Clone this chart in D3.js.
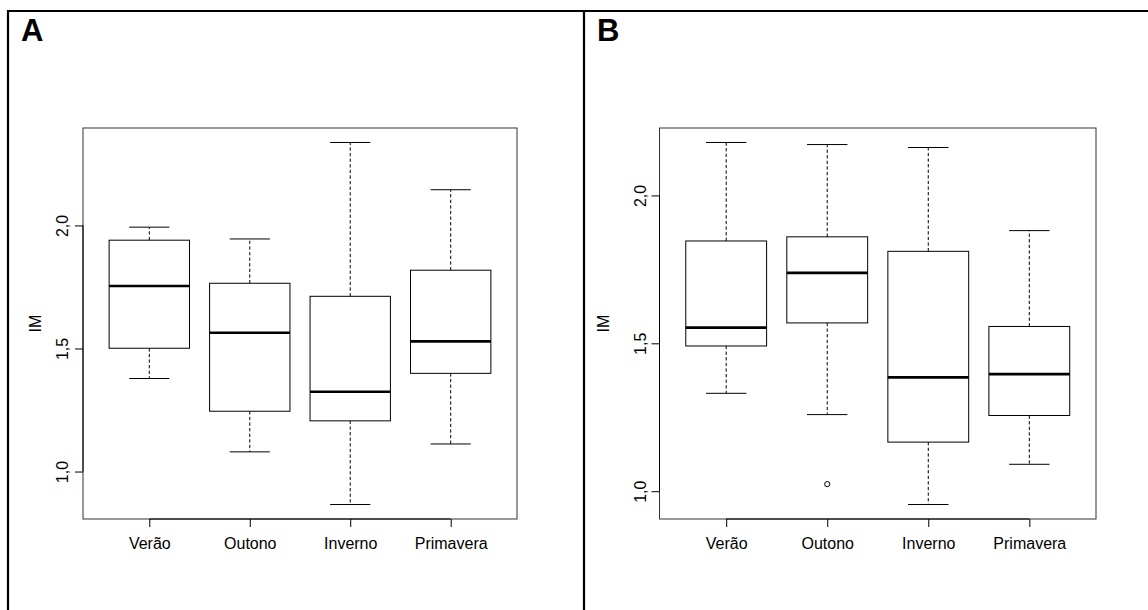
<!DOCTYPE html>
<html>
<head>
<meta charset="utf-8">
<script src="https://cdn.jsdelivr.net/npm/d3@7"></script>
<style>
  html, body { margin: 0; padding: 0; background: #fff; }
  svg { display: block; font-family: "Liberation Sans", Arial, Helvetica, sans-serif; }
</style>
</head>
<body>
<svg id="chart" width="1148" height="610"></svg>
<script>
// Seasons on the x axis
const categories = ["Verão", "Outono", "Inverno", "Primavera"];

// Panel A: five-number summaries of IM per season
const lowA    = [1.378, 1.080, 0.866, 1.112];
const q1A     = [1.501, 1.245, 1.206, 1.399];
const medianA = [1.754, 1.564, 1.324, 1.529];
const q3A     = [1.940, 1.765, 1.712, 1.818];
const highA   = [1.993, 1.945, 2.337, 2.145];
const outliersA = [[], [], [], []];

// Panel B: five-number summaries of IM per season
const lowB    = [1.331, 1.259, 0.955, 1.091];
const q1B     = [1.491, 1.569, 1.166, 1.256];
const medianB = [1.553, 1.738, 1.385, 1.396];
const q3B     = [1.846, 1.860, 1.811, 1.557];
const highB   = [2.179, 2.172, 2.162, 1.881];
const outliersB = [[], [1.024], [], []];

// Shared y axis ticks
const yTickValues = [1.0, 1.5, 2.0];
const yTickLabels = ["1,0", "1,5", "2,0"];
const yAxisTitle = "IM";
const panelLetters = ["A", "B"];

const svg = d3.select("#chart");
svg.append("rect").attr("width", 1148).attr("height", 610).attr("fill", "#fff");

// Outer frame: top rule, left rule, divider between panels
const frame = svg.append("g").attr("stroke", "#000").attr("stroke-width", 2.2);
frame.append("line").attr("x1", 7).attr("x2", 1148).attr("y1", 11).attr("y2", 11);
frame.append("line").attr("x1", 8).attr("x2", 8).attr("y1", 10).attr("y2", 610);
frame.append("line").attr("x1", 584).attr("x2", 584).attr("y1", 10).attr("y2", 610);

function buildRows(low, q1, med, q3, high, outs) {
  return categories.map((c, i) => ({
    cat: c, idx: i + 1, low: low[i], q1: q1[i], med: med[i], q3: q3[i], high: high[i], outs: outs[i]
  }));
}

const panels = [
  { letter: panelLetters[0], letterX: 21, left: 83, right: 517, titleX: 35.5, tickLabelX: 62,
    rows: buildRows(lowA, q1A, medianA, q3A, highA, outliersA) },
  { letter: panelLetters[1], letterX: 597, left: 659.5, right: 1096, titleX: 603.5, tickLabelX: 640,
    rows: buildRows(lowB, q1B, medianB, q3B, highB, outliersB) }
];

const plotTop = 128, plotBottom = 519;

panels.forEach(p => {
  const g = svg.append("g");

  // Panel letter
  g.append("text").attr("x", p.letterX).attr("y", 41)
    .attr("font-size", 31).attr("font-weight", "bold").text(p.letter);

  // y range: data extent padded by 4% each side
  const all = p.rows.flatMap(r => [r.low, r.high, ...r.outs]);
  const ext = d3.extent(all);
  const pad = (ext[1] - ext[0]) * 0.04;
  const y = d3.scaleLinear().domain([ext[0] - pad, ext[1] + pad]).range([plotBottom, plotTop]);

  // x range: positions 1..n with 0.5 margin, padded by 4%
  const n = categories.length;
  const x = d3.scaleLinear()
    .domain([0.5 - n * 0.04, n + 0.5 + n * 0.04])
    .range([p.left, p.right]);
  const unit = x(1) - x(0);
  const boxW = 0.8 * unit, capW = 0.4 * unit;

  const plot = g.append("g");

  p.rows.forEach(r => {
    const cx = x(r.idx);
    // whiskers
    plot.append("line").attr("x1", cx).attr("x2", cx).attr("y1", y(r.q3)).attr("y2", y(r.high))
      .attr("stroke", "#000").attr("stroke-width", 1).attr("stroke-dasharray", "3.3,2.3");
    plot.append("line").attr("x1", cx).attr("x2", cx).attr("y1", y(r.q1)).attr("y2", y(r.low))
      .attr("stroke", "#000").attr("stroke-width", 1).attr("stroke-dasharray", "3.3,2.3");
    // caps
    [r.low, r.high].forEach(v => {
      plot.append("line").attr("x1", cx - capW / 2).attr("x2", cx + capW / 2)
        .attr("y1", y(v)).attr("y2", y(v)).attr("stroke", "#000").attr("stroke-width", 1);
    });
    // box
    plot.append("rect").attr("x", cx - boxW / 2).attr("width", boxW)
      .attr("y", y(r.q3)).attr("height", y(r.q1) - y(r.q3))
      .attr("fill", "none").attr("stroke", "#000").attr("stroke-width", 1);
    // median
    plot.append("line").attr("x1", cx - boxW / 2).attr("x2", cx + boxW / 2)
      .attr("y1", y(r.med)).attr("y2", y(r.med)).attr("stroke", "#000").attr("stroke-width", 2.6);
    // outliers
    r.outs.forEach(v => {
      plot.append("circle").attr("cx", cx).attr("cy", y(v)).attr("r", 2.6)
        .attr("fill", "none").attr("stroke", "#000").attr("stroke-width", 1);
    });
  });

  // plot border
  g.append("rect").attr("x", p.left).attr("y", plotTop)
    .attr("width", p.right - p.left).attr("height", plotBottom - plotTop)
    .attr("fill", "none").attr("stroke", "#333").attr("stroke-width", 1);

  // y axis
  const yAxis = d3.axisLeft(y).tickValues(yTickValues)
    .tickFormat((d, i) => yTickLabels[i]).tickSize(8).tickPadding(0);
  const ya = g.append("g").attr("transform", `translate(${p.left},0)`).call(yAxis);
  ya.select(".domain").attr("d", `M0,${y(yTickValues[0])}V${y(yTickValues[yTickValues.length - 1])}`)
    .attr("stroke", "#000");
  ya.selectAll(".tick line").attr("stroke", "#000");
  ya.selectAll(".tick text")
    .attr("font-size", 16).attr("font-family", null).attr("fill", "#000")
    .attr("text-anchor", "middle").attr("dy", null)
    .attr("x", null)
    .attr("transform", `translate(${p.tickLabelX - p.left},0) rotate(-90) translate(0,5.5)`);

  // x axis
  const xAxis = d3.axisBottom(x).tickValues(d3.range(1, n + 1))
    .tickFormat(i => categories[i - 1]).tickSize(8).tickPadding(0);
  const xa = g.append("g").attr("transform", `translate(0,${plotBottom})`).call(xAxis);
  xa.select(".domain").attr("d", `M${x(1)},0H${x(n)}`).attr("stroke", "#000");
  xa.selectAll(".tick line").attr("stroke", "#000");
  xa.selectAll(".tick text")
    .attr("font-size", 16).attr("font-family", null).attr("fill", "#000")
    .attr("y", 30).attr("dy", null);

  // y axis title
  g.append("text")
    .attr("transform", `translate(${p.titleX + 5.5},${(plotTop + plotBottom) / 2}) rotate(-90)`)
    .attr("text-anchor", "middle").attr("font-size", 16).text(yAxisTitle);
});
</script>
</body>
</html>
